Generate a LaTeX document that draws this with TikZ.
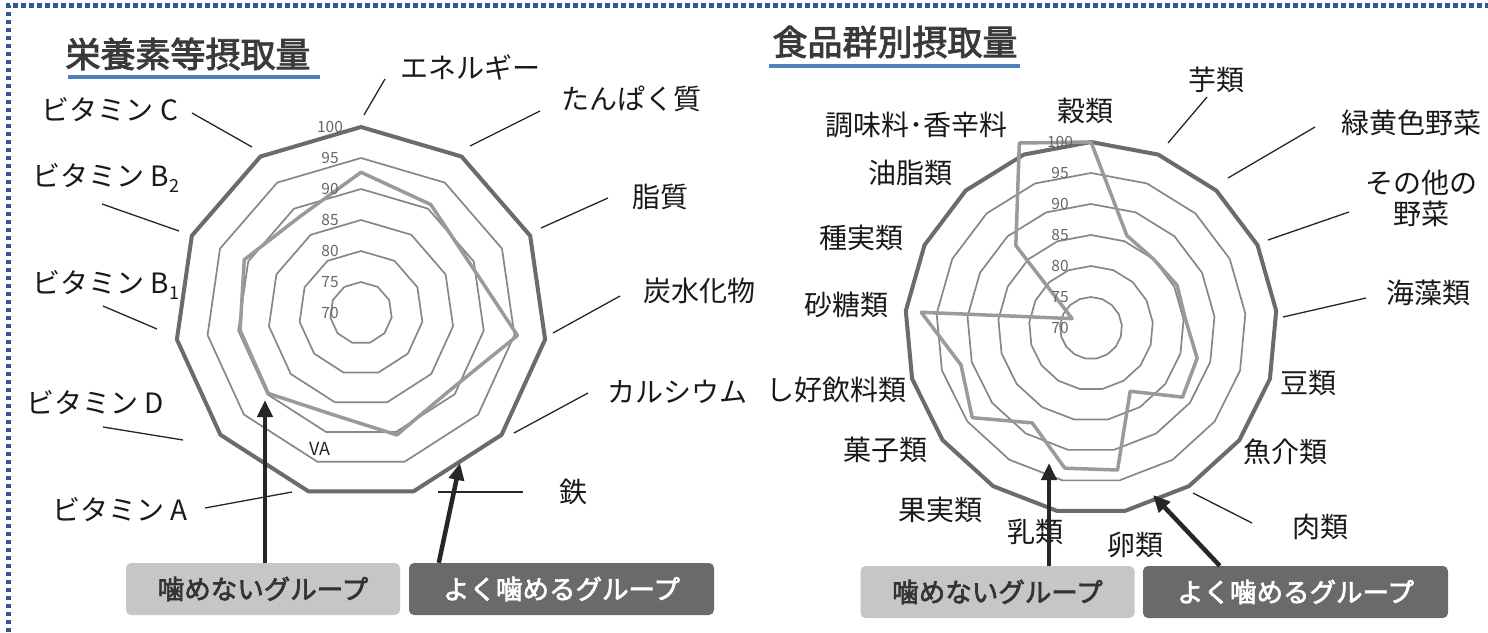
\documentclass[tikz,border=0pt]{standalone}
\usepackage{fontspec}
\setmainfont{Noto Sans CJK JP}
\newfontfamily\jpbold[FakeBold=2.5]{Noto Sans CJK JP}
\usetikzlibrary{arrows.meta,calc}
\definecolor{ringgray}{HTML}{878787}
\definecolor{outergray}{HTML}{6B6B6B}
\definecolor{datagray}{HTML}{9A9A9A}
\definecolor{bordblue}{HTML}{34558E}
\definecolor{ulblue}{HTML}{4F81BD}
\definecolor{boxlight}{HTML}{C6C6C6}
\definecolor{boxdark}{HTML}{6A6A6A}
\definecolor{titlegray}{HTML}{3A3A3A}
\definecolor{scalegray}{HTML}{666666}
\tikzset{
 ringline/.style={draw=ringgray, line width=1.7pt, line join=round},
 outerline/.style={draw=outergray, line width=4pt, line join=round},
 dataline/.style={draw=datagray, line width=3.5pt, line join=round},
 scalelab/.style={font=\fontsize{15.5}{15.5}\selectfont, text=scalegray, inner sep=0pt},
 lab/.style={font=\fontsize{28}{30}\selectfont, text=black!90, inner sep=0pt, align=center},
 leader/.style={draw=black!85, line width=1.3pt},
 ttl/.style={font=\jpbold\fontsize{35}{36}\selectfont, text=titlegray, inner sep=0pt},
 uline/.style={draw=ulblue, line width=4.5pt},
 legbox/.style={rounded corners=5pt, minimum height=52pt, inner sep=0pt, font=\jpbold\fontsize{26.5}{27}\selectfont},
 legA/.style={legbox, fill=boxlight, text=black!80, minimum width=274pt},
 legB/.style={legbox, fill=boxdark, text=white, minimum width=305pt},
 pointer/.style={draw=black!85, line width=4.5pt, -{Triangle[length=17pt,width=15pt]}},
 border/.style={draw=bordblue, line width=5pt, dash pattern=on 4.5pt off 3.5pt},
}
\newcommand\mysub[1]{\raisebox{-0.22em}{\fontsize{18}{18}\selectfont #1}}
\newcommand\radarchart[5]{%
 \foreach \rv in {75,80,85,90,95}{
  \draw[ringline] ($(#1)+(-90:{(\rv-70)*6.2})$)
   \foreach \k in {1,...,#3}{ -- ($(#1)+({-90+\k*360/#2}:{(\rv-70)*6.2})$) } -- cycle;
 }
 \draw[outerline] ($(#1)+(-90:186)$)
   \foreach \k in {1,...,#3}{ -- ($(#1)+({-90+\k*360/#2}:186)$) } -- cycle;
 \draw[dataline] ($(#1)+(-90:{(#4-70)*6.2})$)
   \foreach \dv [count=\k] in {#5}{ -- ($(#1)+({-90+\k*360/#2}:{(\dv-70)*6.2})$) } -- cycle;
 \foreach \sv in {70,75,...,100}{
  \node[scalelab] (#1-s\sv) at ($(#1)+(-31,{-(\sv-70)*6.2})$) {\sv};
 }
}
\begin{document}
\begin{tikzpicture}[x=1pt,y=-1pt]
\useasboundingbox (0,0) rectangle (1488,632);
\fill[white] (0,0) rectangle (1488,632);
\draw[border] (8,632) -- (8,5) -- (1488,5);

% titles
\node[ttl] (titleL) at (188,54) {栄養素等摂取量};
\draw[uline] (68,77) -- (320,77);
\node[ttl] (titleR) at (895,42) {食品群別摂取量};
\draw[uline] (769,66) -- (1020,66);

% charts
\coordinate (cL) at (361,313);
\coordinate (cR) at (1091,328);
\radarchart{cL}{11}{10}{92.7}{90.8,89.3,95.5,89,90.5,87,89.8,89.7,90.7,88.4}
\radarchart{cR}{17}{16}{100}{86,85,85.5,85.3,87.8,88.5,82,93.3,93,88,94,91.8,97.5,73.4,88,102}

% left labels
\node[lab] (nEne) at (470,67) {エネルギー};
\node[lab] (nPro) at (631,99) {たんぱく質};
\node[lab] (nFat) at (660,197) {脂質};
\node[lab] (nCarb) at (699,291) {炭水化物};
\node[lab] (nCa) at (677,392) {カルシウム};
\node[lab] (nFe) at (573,492) {鉄};
\node[lab] (nVA) at (120,510) {ビタミン A};
\node[lab] (nVD) at (95,403) {ビタミン D};
\node[lab] (nVBa) at (106,285) {ビタミン B\mysub{1}};
\node[lab] (nVBb) at (106,178) {ビタミン B\mysub{2}};
\node[lab] (nVC) at (110,110) {ビタミン C};
\node[font=\fontsize{18}{18}\selectfont, text=black!85, inner sep=0pt] (nVAab) at (320,449) {VA};

% left leaders
\coordinate (eneA) at (385,79); \coordinate (eneB) at (364,115);
\coordinate (proA) at (540,111); \coordinate (proB) at (470,146);
\coordinate (fatA) at (608,198); \coordinate (fatB) at (541,228);
\coordinate (carA) at (620,296); \coordinate (carB) at (553,333);
\coordinate (caA) at (588,393); \coordinate (caB) at (514,433);
\coordinate (feA) at (523,492); \coordinate (feB) at (438,492);
\coordinate (vaA) at (205,508); \coordinate (vaB) at (292,492);
\coordinate (vdA) at (103,427); \coordinate (vdB) at (183,440);
\coordinate (vbaA) at (103,306); \coordinate (vbaB) at (157,329);
\coordinate (vbbA) at (102,204); \coordinate (vbbB) at (179,231);
\coordinate (vcA) at (192,113); \coordinate (vcB) at (252,147);
\foreach \a/\b in {eneA/eneB,proA/proB,fatA/fatB,carA/carB,caA/caB,feA/feB,vaA/vaB,vdA/vdB,vbaA/vbaB,vbbA/vbbB,vcA/vcB}
  \draw[leader] (\a) -- (\b);

% right labels
\node[lab] (nKoku) at (1085,111) {穀類};
\node[lab] (nImo) at (1216,80) {芋類};
\node[lab] (nRyoku) at (1411,123) {緑黄色野菜};
\node[lab] (nSono) at (1421,198) {その他の\\[1pt]野菜};
\node[lab] (nKai) at (1428,293) {海藻類};
\node[lab] (nMame) at (1308,383) {豆類};
\node[lab] (nGyo) at (1285,452) {魚介類};
\node[lab] (nNiku) at (1320,527) {肉類};
\node[lab] (nTama) at (1135,545) {卵類};
\node[lab] (nNyu) at (1035,532) {乳類};
\node[lab] (nKaj) at (940,510) {果実類};
\node[lab] (nKash) at (885,450) {菓子類};
\node[lab] (nShi) at (836,390) {し好飲料類};
\node[lab] (nSato) at (846,305) {砂糖類};
\node[lab] (nShu) at (861,238) {種実類};
\node[lab] (nYu) at (910,173) {油脂類};
\node[lab] (nCho) at (916,125) {調味料･香辛料};

% right leaders
\coordinate (imoA) at (1207,97); \coordinate (imoB) at (1168,143);
\coordinate (ryA) at (1315,127); \coordinate (ryB) at (1228,178);
\coordinate (soA) at (1349,212); \coordinate (soB) at (1268,240);
\coordinate (kaA) at (1366,298); \coordinate (kaB) at (1283,317);
\coordinate (niA) at (1252,523); \coordinate (niB) at (1193,493);
\foreach \a/\b in {imoA/imoB,ryA/ryB,soA/soB,kaA/kaB,niA/niB}
  \draw[leader] (\a) -- (\b);

% legends
\node[legA] (lgL1) at (263,589) {噛めないグループ};
\node[legB] (lgL2) at (561.5,589) {よく噛めるグループ};
\node[legA] (lgR1) at (997.5,592) {噛めないグループ};
\node[legB] (lgR2) at (1295.5,592) {よく噛めるグループ};

% pointers
\coordinate (tipLA) at (265,400);
\coordinate (tipLB) at (460,463);
\coordinate (tipRA) at (1049,463);
\coordinate (tipRB) at (1153,495);
\draw[pointer] (tipLA |- lgL1.north) -- (tipLA);
\draw[pointer] ($(lgL2.north west)+(30,0)$) -- (tipLB);
\draw[pointer] (tipRA |- lgR1.north) -- (tipRA);
\draw[pointer] ($(lgR2.north west)+(77,0)$) -- (tipRB);
\end{tikzpicture}
\end{document}
